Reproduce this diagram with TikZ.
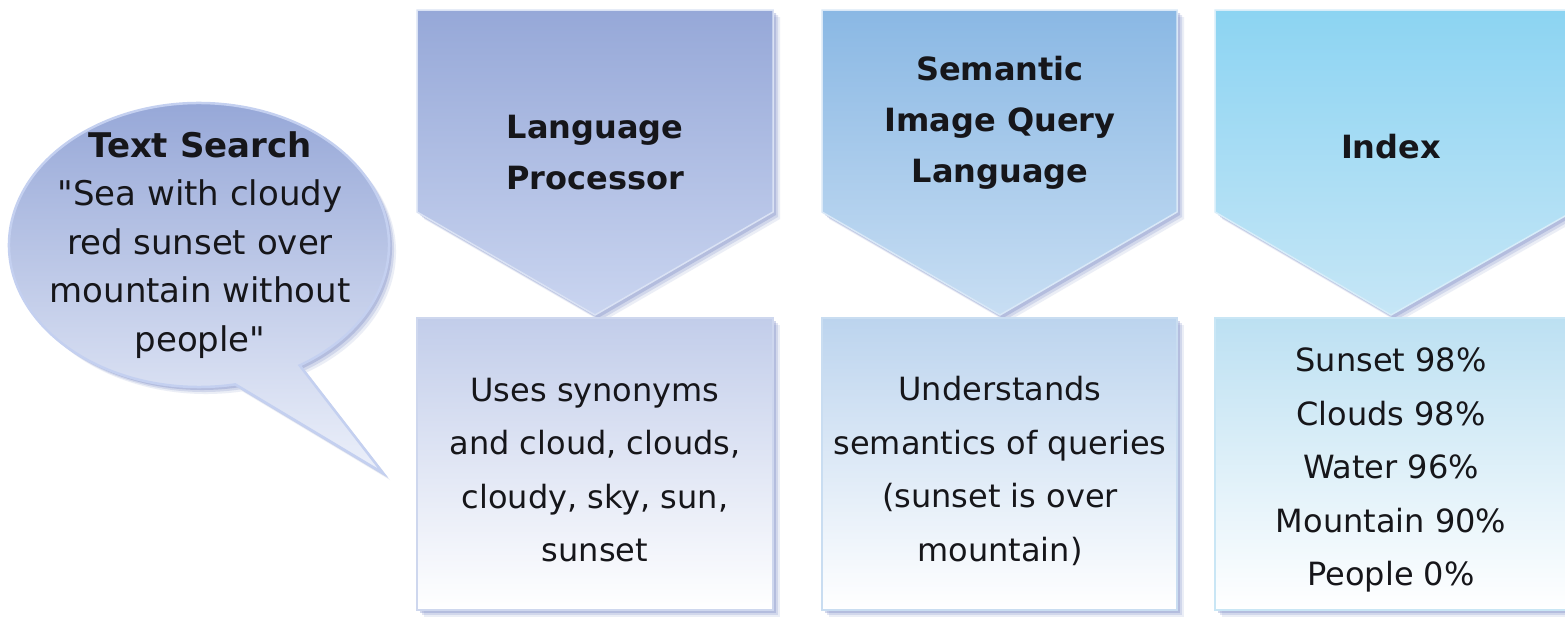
\documentclass[tikz,border=0pt]{standalone}
\usepackage{fontspec}
\setmainfont{DejaVu Sans}[Ligatures=TeXOff]
\usetikzlibrary{calc,shadows}

\definecolor{inktext}{RGB}{22,22,26}
\definecolor{shadowblue}{RGB}{120,136,196}
% header arrows
\definecolor{lpTop}{RGB}{150,168,216}
\definecolor{lpBot}{RGB}{202,213,240}
\definecolor{sqTop}{RGB}{138,184,228}
\definecolor{sqBot}{RGB}{200,222,243}
\definecolor{ixTop}{RGB}{140,212,242}
\definecolor{ixBot}{RGB}{198,230,246}
% detail boxes
\definecolor{lpBox}{RGB}{194,205,234}
\definecolor{sqBox}{RGB}{188,212,238}
\definecolor{ixBox}{RGB}{188,224,242}
% speech bubble
\definecolor{bubTop}{RGB}{146,164,214}
\definecolor{bubBot}{RGB}{236,240,250}
\definecolor{bubRim}{RGB}{196,208,240}

\begin{document}
\begin{tikzpicture}[x=1pt,y=-1pt,
  softshadow/.style={
    drop shadow={shadow xshift=7pt,shadow yshift=-7pt,fill=shadowblue,opacity=.14},
    drop shadow={shadow xshift=5pt,shadow yshift=-5pt,fill=shadowblue,opacity=.22},
    drop shadow={shadow xshift=3pt,shadow yshift=-3pt,fill=shadowblue,opacity=.32}},
  header/.style={softshadow,draw=#1Bot!70!white,line width=1.5pt,
    top color=#1Top,bottom color=#1Bot},
  detail/.style={softshadow,draw=#1Box!80!white,line width=1.5pt,
    top color=#1Box,bottom color=white},
  title/.style={text=inktext,align=center,font=\bfseries\fontsize{32}{51}\selectfont},
  body/.style={text=inktext,align=center,font=\fontsize{32}{53.5}\selectfont},
  bubtext/.style={text=inktext,align=center,font=\fontsize{34}{48.5}\selectfont}]

\fill[white] (0,0) rectangle (1565,619);
\useasboundingbox (0,0) rectangle (1565,619);

% speech bubble with its tail
\coordinate (bc) at (199,245);
\coordinate (tip) at (383,473);
\path[softshadow,draw=bubRim,line width=2.5pt,top color=bubTop,bottom color=bubBot]
  ($(bc)+(58:190 and 142)$) arc[start angle=58,end angle=-281,x radius=190,y radius=142]
  -- (tip) -- cycle;
\node[bubtext] (query) at (200,245)
  {\textbf{Text Search}\\"Sea with cloudy\\red sunset over\\mountain without\\people"};

% header arrows
\path[header=lp] (417,10) -- (773,10) -- (773,212) -- (595,315) -- (417,212) -- cycle;
\path[header=sq] (822,10) -- (1177,10) -- (1177,212) -- (1000,315) -- (822,212) -- cycle;
\path[header=ix] (1215,10) -- (1572,10) -- (1572,212) -- (1391,315) -- (1215,212) -- cycle;

\node[title] (lp) at (595,153) {Language\\Processor};
\node[title] (sq) at (1000,123) {Semantic\\Image Query\\Language};
\node[title] (ix) at (1391,147) {Index};

% detail boxes
\path[detail=lp] (417,318) rectangle (773,610);
\path[detail=sq] (822,318) rectangle (1177,610);
\path[detail=ix] (1215,318) rectangle (1572,610);

\node[body] (lpd) at (595,470)
  {Uses synonyms\\and cloud, clouds,\\cloudy, sky, sun,\\sunset};
\node[body] (sqd) at (1000,471)
  {Understands\\semantics of queries\\(sunset is over\\mountain)};
\node[body] (ixd) at (1391,470)
  {Sunset 98\%\\Clouds 98\%\\Water 96\%\\Mountain 90\%\\People 0\%};
\end{tikzpicture}
\end{document}
